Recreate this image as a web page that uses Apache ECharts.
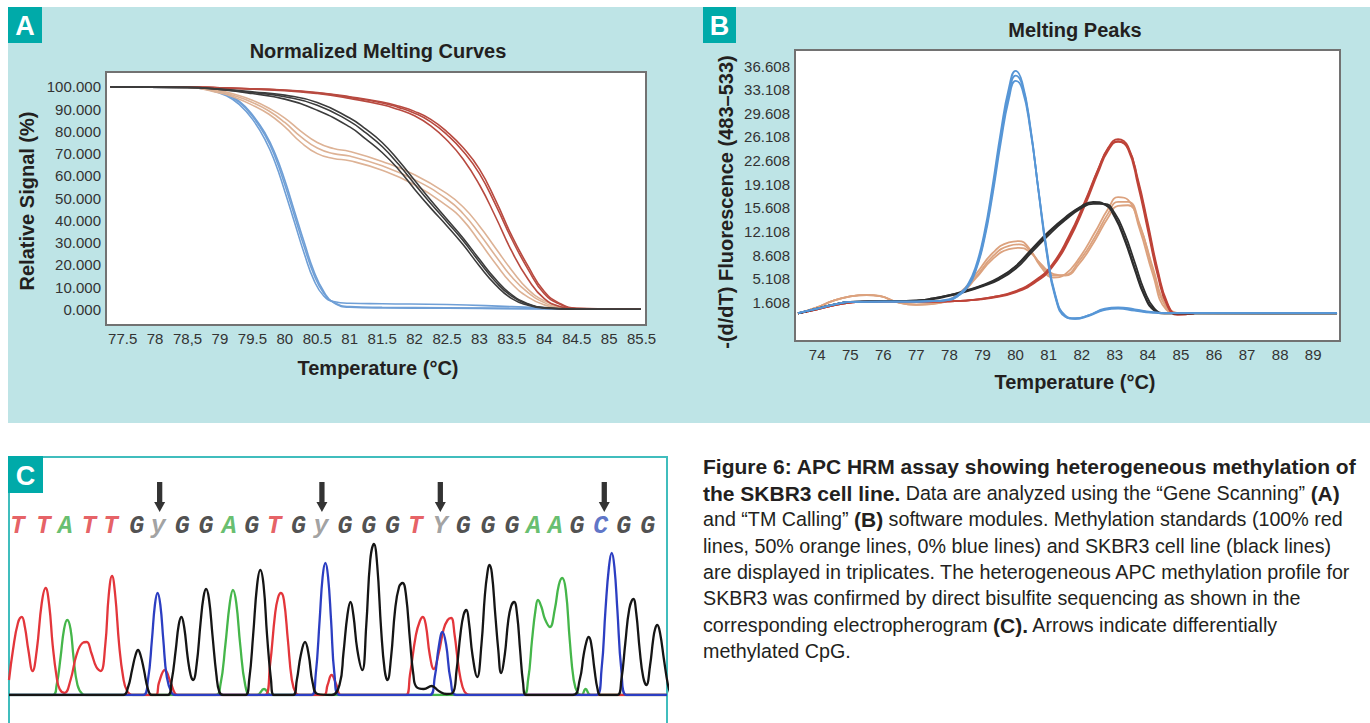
<!DOCTYPE html>
<html>
<head>
<meta charset="utf-8">
<script src="https://cdn.jsdelivr.net/npm/echarts/dist/echarts.min.js"></script>
<style>
  html, body { margin: 0; padding: 0; background: #ffffff; }
  #chart { width: 1370px; height: 723px; }
</style>
</head>
<body>
<div id="chart"></div>
<script>
// ---------------- Panel A : Normalized Melting Curves ----------------
const aTicks = [77.5, 78, 78.5, 79, 79.5, 80, 80.5, 81, 81.5, 82, 82.5, 83, 83.5, 84, 84.5, 85, 85.5];
const aTickLabels = ['77.5', '78', '78,5', '79', '79.5', '80', '80.5', '81', '81.5', '82', '82.5', '83', '83.5', '84', '84.5', '85', '85.5'];
const aYTicks = [0, 10, 20, 30, 40, 50, 60, 70, 80, 90, 100];

const aBlueT = [77.31, 78.5, 78.85, 79.1, 79.3, 79.5, 79.7, 79.85, 80.0, 80.15, 80.3, 80.45, 80.6, 80.75, 81.0, 81.5, 82.5, 83.5, 84.5, 85.49];
const aBlue1 = [100, 99.8, 98.5, 96, 92, 85.5, 76, 66, 53, 39, 25, 13, 6, 3.5, 2.7, 2.5, 2.2, 1.2, 0.2, 0];
const aBlue2 = [100, 99.8, 98.8, 96.8, 93.5, 87.5, 79, 70, 58, 44, 30, 17, 8, 3, 0.9, 0.6, 0.5, 0.3, 0.1, 0];
const aBlue3 = [100, 99.8, 98.7, 96.5, 93, 86.8, 78, 68.5, 56, 42, 28, 15.5, 7.2, 3.2, 1.2, 0.9, 0.7, 0.4, 0.1, 0];

const aRedT = [77.31, 78.5, 79.0, 80.0, 80.5, 81.0, 81.5, 81.75, 82.0, 82.25, 82.5, 82.75, 83.0, 83.25, 83.5, 83.75, 84.0, 84.25, 84.5, 85.49];
const aRed1 = [100, 100, 99.6, 98.6, 97.5, 95.6, 93.2, 91.4, 89, 85.4, 79.8, 72.6, 63, 49, 33, 19.4, 8, 2.5, 0.5, 0];
const aRed2 = [100, 100, 99.5, 98.3, 97, 94.8, 92, 89.8, 87, 82.5, 76, 67.5, 56, 41.5, 26, 13.5, 4.8, 1.2, 0.2, 0];
const aRed3 = [100, 100, 99.6, 98.5, 97.3, 95.3, 92.8, 90.8, 88.2, 84.3, 78.5, 71, 61, 47, 31.5, 18, 7, 2.2, 0.4, 0];

const aOrangeT = [77.31, 78.5, 79.0, 79.25, 79.5, 79.75, 80.0, 80.25, 80.5, 80.75, 81.0, 81.5, 82.0, 82.5, 82.75, 83.0, 83.25, 83.5, 83.75, 84.0, 84.25, 84.5, 85.49];
const aOrange1 = [100, 99.8, 98.2, 96.5, 94, 90.5, 86, 80, 75, 72.3, 71, 66.5, 60.5, 52, 46, 37.5, 27.5, 17.5, 9, 3.8, 1.2, 0.3, 0];
const aOrange2 = [100, 99.8, 97.8, 95.8, 93, 89.3, 84, 77.5, 72.5, 70, 68.9, 64.5, 58.3, 49.5, 43, 34, 24, 14.5, 7.5, 3, 0.8, 0.2, 0];
const aOrange3 = [100, 99.7, 97.3, 95, 91.8, 87.8, 82, 75, 70, 67.8, 66.8, 62.5, 56, 46.5, 40, 30.5, 20.5, 11.5, 5.5, 2, 0.5, 0.1, 0];

const aBlackT = [77.31, 78.5, 79.0, 79.5, 80.0, 80.5, 81.0, 81.25, 81.5, 81.75, 82.0, 82.25, 82.5, 82.75, 83.0, 83.25, 83.5, 83.75, 84.0, 84.5, 85.49];
const aBlack1 = [100, 99.8, 99, 97.8, 96.3, 93, 86, 81, 75, 67, 58, 49, 40.5, 32, 22.5, 13.5, 6.5, 2.5, 0.8, 0.1, 0];
const aBlack2 = [100, 99.7, 98.8, 97, 94.5, 89.5, 82, 76.5, 70.5, 63, 54, 45.5, 37.5, 29, 19.5, 11, 4.8, 1.8, 0.5, 0, 0];
const aBlack3 = [100, 99.8, 98.9, 97.5, 95.6, 91.8, 84.5, 79.3, 73.2, 65.3, 56.3, 47.6, 39.3, 30.8, 21.3, 12.4, 5.8, 2.2, 0.7, 0.05, 0];

// ---------------- Panel B : Melting Peaks ----------------
const bTicks = [74, 75, 76, 77, 78, 79, 80, 81, 82, 83, 84, 85, 86, 87, 88, 89];
const bYTicks = [1.608, 5.108, 8.608, 12.108, 15.608, 19.108, 22.608, 26.108, 29.608, 33.108, 36.608];

const bBlueT = [73.42, 74.0, 74.5, 75.0, 76.0, 77.0, 77.5, 78.0, 78.3, 78.55, 78.8, 79.05, 79.3, 79.55, 79.8, 80.0, 80.2, 80.45, 80.7, 80.95, 81.2, 81.5, 81.8, 82.2, 82.7, 83.1, 83.6, 84.1, 84.6, 89.72];
const bBlue1 = [0.05, 0.7, 1.3, 1.7, 1.75, 1.75, 1.8, 2.1, 2.9, 4.2, 7.0, 11.8, 18.8, 26.8, 33.4, 35.9, 34.2, 27.5, 17.8, 8.6, 2.4, -0.5, -0.8, -0.3, 0.6, 0.8, 0.5, 0.15, 0.03, 0.03];
const bBlue2 = [0.05, 0.7, 1.3, 1.7, 1.75, 1.75, 1.8, 2.0, 2.8, 4.0, 6.6, 11.2, 18.0, 26.0, 32.6, 35.2, 33.8, 27.3, 17.9, 8.9, 2.6, -0.4, -0.8, -0.4, 0.5, 0.7, 0.4, 0.1, 0.03, 0.03];
const bBlue3 = [0.05, 0.7, 1.3, 1.7, 1.75, 1.75, 1.8, 2.0, 2.7, 3.9, 6.4, 10.8, 17.4, 25.2, 31.8, 34.4, 33.2, 27.0, 18.0, 9.2, 2.8, -0.3, -0.7, -0.3, 0.7, 0.9, 0.6, 0.2, 0.03, 0.03];

const bRedT = [73.42, 74.0, 74.5, 75.0, 75.5, 76.5, 77.5, 78.5, 79.3, 80.0, 80.6, 81.1, 81.6, 82.1, 82.5, 82.8, 83.1, 83.4, 83.7, 84.0, 84.3, 84.6, 84.9, 85.4];
const bRed1 = [0, 0.6, 1.2, 1.6, 1.75, 1.75, 1.75, 1.9, 2.4, 3.2, 4.8, 7.0, 11.0, 16.4, 21.3, 24.5, 25.8, 24.7, 19.5, 12.8, 6.0, 1.2, -0.2, 0];
const bRed2 = [0, 0.6, 1.2, 1.6, 1.75, 1.75, 1.75, 1.9, 2.3, 3.1, 4.6, 6.8, 10.7, 16.0, 20.9, 24.1, 25.4, 24.5, 19.8, 13.3, 6.4, 1.4, -0.1, 0];
const bRed3 = [0, 0.6, 1.2, 1.6, 1.75, 1.75, 1.75, 1.9, 2.4, 3.3, 4.9, 7.2, 11.3, 16.6, 21.4, 24.4, 25.5, 24.3, 19.0, 12.3, 5.6, 1.0, -0.2, 0];

const bBlackT = [73.42, 74.0, 74.5, 75.0, 76.0, 77.0, 77.5, 78.0, 78.5, 79.0, 79.5, 80.0, 80.5, 81.0, 81.5, 82.0, 82.35, 82.7, 83.0, 83.3, 83.6, 83.9, 84.2, 84.5, 89.72];
const bBlack1 = [0, 0.7, 1.3, 1.7, 1.8, 1.9, 2.2, 2.7, 3.4, 4.2, 5.3, 7.0, 9.6, 12.1, 14.2, 15.9, 16.5, 16.1, 14.2, 10.8, 6.5, 2.5, 0.4, 0, 0];
const bBlack2 = [0, 0.7, 1.3, 1.7, 1.8, 1.9, 2.1, 2.6, 3.2, 4.0, 5.0, 6.6, 9.1, 11.6, 13.8, 15.6, 16.2, 16.2, 14.8, 11.8, 7.6, 3.3, 0.7, 0.05, 0];
const bBlack3 = [0, 0.7, 1.3, 1.7, 1.8, 1.9, 2.2, 2.7, 3.3, 4.1, 5.2, 6.9, 9.4, 11.9, 14.0, 15.8, 16.4, 16.1, 14.4, 11.1, 6.8, 2.7, 0.5, 0, 0];

const bOrangeT = [73.42, 74.0, 74.5, 75.0, 75.5, 75.9, 76.4, 77.0, 77.6, 78.3, 78.8, 79.3, 79.8, 80.1, 80.4, 80.75, 81.15, 81.5, 81.9, 82.4, 82.8, 83.1, 83.4, 83.75, 84.15, 84.55, 84.95];
const bOrange1 = [0, 0.9, 1.9, 2.5, 2.75, 2.6, 1.7, 1.3, 1.5, 3.0, 5.8, 8.9, 10.5, 10.7, 9.7, 7.0, 5.3, 5.8, 8.0, 12.0, 15.5, 17.2, 16.8, 12.5, 5.8, 0.6, 0];
const bOrange2 = [0, 0.9, 1.9, 2.5, 2.7, 2.55, 1.65, 1.25, 1.45, 2.9, 5.4, 8.4, 10.0, 10.2, 9.5, 7.3, 5.6, 5.7, 7.6, 11.3, 14.8, 16.5, 16.5, 13.2, 6.5, 0.9, 0];
const bOrange3 = [0, 0.9, 1.9, 2.5, 2.7, 2.55, 1.7, 1.3, 1.5, 2.8, 5.2, 8.0, 9.5, 9.7, 9.2, 7.4, 5.8, 5.6, 7.2, 10.8, 14.2, 15.9, 16.0, 13.0, 6.8, 1.1, 0];

// ---------------- Panel C : electropherogram ----------------
const seqLetters = 'TTATTGyGGAGTGyGGGTYGGGAAGCGG';
const seqPos = [8.5, 34.7, 56.6, 80.6, 102.5, 128.7, 150.5, 174.6, 198.6, 221.8, 244.5, 267.2, 291.7, 314.4, 338.5, 362.5, 386.5, 409.7, 434.6, 457.8, 482.7, 506.7, 528.6, 550.4, 572.3, 596.3, 619.5, 643.5];
const arrowPos = [151.8, 315.3, 434.6, 599.8];

const traceT = [[0,15],[4,45],[9,72],[12.9,78],[16,68],[19.5,45],[23.8,24],[28,45],[33,92],[36.9,107],[40.5,90],[44,50],[48,18],[51,6],[56,2],[62,15],[68,40],[74,52],[78.4,53],[83,42],[88,28],[92.4,24],[97,50],[100.5,100],[103.8,119],[107,100],[111,50],[115,18],[119,4],[125,0],[148,0],[151,12],[157,25],[163,12],[167,2],[170,0],[258,0],[263,30],[268,80],[271,97],[274,102],[277,95],[281,55],[285,15],[289,2],[293,0],[317,0],[321,10],[325,20],[330,10],[335,0],[400,0],[404,20],[410,60],[414,74],[417,78],[420,70],[424,40],[428,26],[433,42],[438,66],[442,75],[445.5,77],[449,60],[453,28],[457,8],[461,1],[465,0],[663,0]];
const traceA = [[0,0],[44,0],[48,10],[52,38],[55.5,66],[58.7,75],[62,66],[65,38],[69,10],[74,1],[78,0],[208,0],[213,10],[218,50],[222.5,92],[225.7,105],[229,92],[233,50],[238,10],[243,0],[250,0],[257,6],[264,0],[518,0],[523,15],[527,55],[530.5,85],[533,95],[536.5,88],[540,76],[545,68],[550,86],[554,110],[557.4,117],[561,105],[565,55],[569,15],[573,2],[577,0],[581,6],[586,0],[663,0]];
const traceC = [[0,0],[135,0],[140,15],[144,55],[147,90],[149.7,102],[152.5,90],[155.5,55],[159,18],[164,2],[168,0],[305,0],[309,20],[313,75],[316,118],[318.8,132],[321.5,118],[324.5,75],[328,20],[333,0],[424,0],[429,18],[433,48],[436.8,63],[440.5,50],[445,15],[451,0],[592,0],[597,25],[601,85],[604.5,128],[607.3,142],[610,128],[613,85],[617,25],[622,0],[663,0]];
const traceG = [[0,0],[115,0],[120,8],[124,25],[127.5,40],[130,45],[132.5,40],[136,25],[140,6],[144,0],[160,0],[164,15],[168,45],[171,70],[173.7,78],[176.5,68],[180,38],[183,20],[185.5,15],[189,30],[193,72],[196,98],[198.6,106],[201.5,96],[205,60],[209,20],[212,3],[216,0],[238,0],[242,15],[246,60],[250,110],[253.2,125],[256.5,110],[260,60],[264,15],[267,0],[286,0],[290,15],[294,40],[298.3,53],[302,40],[306,12],[311,1],[325,0],[333,10],[337,42],[341,80],[344.1,93],[347,80],[351,45],[356,25],[360,70],[364,135],[367.7,151],[371,130],[375,65],[378.5,25],[381.3,15],[385,38],[389,85],[393,108],[396.6,112],[400,100],[404,55],[407.5,20],[410.6,8],[418,6],[425.9,9],[433,4],[441,1],[447,2],[451,25],[455,62],[458,80],[460.8,85],[463.5,72],[467,40],[471.8,18],[476,50],[479.5,100],[482,122],[484,130],[486.5,122],[490,80],[493,45],[495.8,22],[499.5,40],[503,74],[506,89],[509,93],[512,80],[515,45],[518,12],[521,0],[568,0],[575,15],[579,40],[582,54],[584.1,58],[586.5,52],[590,25],[593,6],[596,0],[613,0],[617,15],[621,52],[625,86],[629.1,96],[632,82],[635.5,45],[639,18],[642.2,10],[646,30],[649,55],[651,66],[653.2,70],[656,62],[660,35],[664,10],[667,0]];

// ---------------- build ----------------
const FONT = '"Liberation Sans", Arial, sans-serif';
const toPairs = (xs, ys) => xs.map((x, i) => [x, ys[i]]);

function curve(xs, ys, color, width, axis) {
  return {
    type: 'line', xAxisIndex: axis, yAxisIndex: axis,
    data: toPairs(xs, ys), smooth: 0.5,
    showSymbol: false, symbol: 'none', silent: true,
    lineStyle: { color: color, width: width }
  };
}
function trace(points, color) {
  return {
    type: 'line', xAxisIndex: 2, yAxisIndex: 2, data: points,
    smooth: 0.45, showSymbol: false, symbol: 'none', silent: true,
    lineStyle: { color: color, width: 2.3 }
  };
}

const colA = { blue: '#6f9fd6', orange: '#ddb295', red: '#b84a40', black: '#3c3c3c' };
const colB = { blue: '#5796d6', orange: '#dca27e', red: '#be4338', black: '#2e2e2e' };
const letterColors = { T: '#e0383d', A: '#3fae49', G: '#222222', y: '#8a8a8a', Y: '#8a8a8a', C: '#3450b8' };

const tickLabelStyle = { fontFamily: FONT, fontSize: 15, color: '#333' };

const series = [
  curve(aBlueT, aBlue1, colA.blue, 1.6, 0),
  curve(aBlueT, aBlue2, colA.blue, 1.6, 0),
  curve(aBlueT, aBlue3, colA.blue, 1.6, 0),
  curve(aOrangeT, aOrange1, colA.orange, 1.6, 0),
  curve(aOrangeT, aOrange2, colA.orange, 1.6, 0),
  curve(aOrangeT, aOrange3, colA.orange, 1.6, 0),
  curve(aRedT, aRed1, colA.red, 1.6, 0),
  curve(aRedT, aRed2, colA.red, 1.6, 0),
  curve(aRedT, aRed3, colA.red, 1.6, 0),
  curve(aBlackT, aBlack1, colA.black, 1.6, 0),
  curve(aBlackT, aBlack2, colA.black, 1.6, 0),
  curve(aBlackT, aBlack3, colA.black, 1.6, 0),

  curve(bOrangeT, bOrange1, colB.orange, 1.8, 1),
  curve(bOrangeT, bOrange2, colB.orange, 1.8, 1),
  curve(bOrangeT, bOrange3, colB.orange, 1.8, 1),
  curve(bRedT, bRed1, colB.red, 1.8, 1),
  curve(bRedT, bRed2, colB.red, 1.8, 1),
  curve(bRedT, bRed3, colB.red, 1.8, 1),
  curve(bBlackT, bBlack1, colB.black, 1.8, 1),
  curve(bBlackT, bBlack2, colB.black, 1.8, 1),
  curve(bBlackT, bBlack3, colB.black, 1.8, 1),
  curve(bBlueT, bBlue1, colB.blue, 1.8, 1),
  curve(bBlueT, bBlue2, colB.blue, 1.8, 1),
  curve(bBlueT, bBlue3, colB.blue, 1.8, 1),

  trace(traceA, '#45b64a'),
  trace(traceT, '#e3363b'),
  trace(traceC, '#2c3ec2'),
  trace(traceG, '#151515'),
  {
    type: 'scatter', xAxisIndex: 2, yAxisIndex: 2, silent: true,
    symbolSize: 1, itemStyle: { color: 'rgba(0,0,0,0)' },
    data: seqPos.map((x, i) => ({ value: [x, 169], label: { color: letterColors[seqLetters[i]] } })),
    label: {
      show: true, position: 'inside', formatter: p => seqLetters[p.dataIndex],
      fontFamily: '"Liberation Mono", "DejaVu Sans Mono", monospace', fontStyle: 'italic', fontWeight: 'bold', fontSize: 25
    }
  },
  {
    type: 'scatter', xAxisIndex: 2, yAxisIndex: 2, silent: true,
    symbol: 'path://M2.6,0 L7.4,0 L7.4,20 L10,20 L5,30 L0,20 L2.6,20 Z',
    symbolSize: [11, 30], itemStyle: { color: '#000' },
    data: arrowPos.map(x => [x, 198])
  }
];

function findLabel(v, ticks, labels) {
  for (let i = 0; i < ticks.length; i++) if (Math.abs(ticks[i] - v) < 1e-6) return labels[i];
  return '';
}

function txt(x, y, text, font, opts) {
  return Object.assign({
    type: 'text', x: x, y: y, z: 50, silent: true,
    style: { text: text, font: font, fill: '#231f20', align: 'center', verticalAlign: 'middle' }
  }, opts || {});
}

const RB = 'bold 21px ' + FONT;
const RR = '19.7px ' + FONT;
const captionRich = {
  b: { font: RB, fill: '#231f20' },
  r: { font: RR, fill: '#231f20' }
};
const captionLines = [
  '{b|Figure 6: APC HRM assay showing heterogeneous methylation of}',
  '{b|the SKBR3 cell line.}{r| Data are analyzed using the \u201cGene Scanning\u201d }{b|(A)}',
  '{r|and \u201cTM Calling\u201d }{b|(B)}{r| software modules. Methylation standards (100% red}',
  '{r|lines, 50% orange lines, 0% blue lines) and SKBR3 cell line (black lines)}',
  '{r|are displayed in triplicates. The heterogeneous APC methylation profile for}',
  '{r|SKBR3 was confirmed by direct bisulfite sequencing as shown in the}',
  '{r|corresponding electropherogram }{b|(C).}{r| Arrows indicate differentially}',
  '{r|methylated CpG.}'
];
const captionY = [466, 493, 519, 546, 572, 598, 625, 651];

const graphics = [
  { type: 'rect', z: -10, silent: true, shape: { x: 8, y: 7, width: 1362, height: 416 }, style: { fill: '#bee4e6' } },
  { type: 'rect', z: -10, silent: true, shape: { x: 9, y: 457, width: 658, height: 300 }, style: { fill: '#ffffff', stroke: '#40bdbd', lineWidth: 2 } },
  { type: 'rect', z: 40, silent: true, shape: { x: 8, y: 7, width: 34, height: 36 }, style: { fill: '#00aaa9' } },
  { type: 'rect', z: 40, silent: true, shape: { x: 703, y: 7, width: 33, height: 36 }, style: { fill: '#00aaa9' } },
  { type: 'rect', z: 40, silent: true, shape: { x: 8, y: 456, width: 35, height: 37 }, style: { fill: '#00aaa9' } },
  txt(25, 26, 'A', 'bold 27px "Liberation Sans Narrow", ' + FONT, {}),
  txt(719.5, 26, 'B', 'bold 27px "Liberation Sans Narrow", ' + FONT, {}),
  txt(25.5, 475.5, 'C', 'bold 27px "Liberation Sans Narrow", ' + FONT, {}),
  txt(378, 51, 'Normalized Melting Curves', 'bold 20px ' + FONT),
  txt(378, 368, 'Temperature (\u00b0C)', 'bold 20px ' + FONT),
  txt(27, 201, 'Relative Signal (%)', 'bold 20px ' + FONT, { rotation: Math.PI / 2 }),
  txt(1075, 30, 'Melting Peaks', 'bold 20px ' + FONT),
  txt(1075, 382, 'Temperature (\u00b0C)', 'bold 20px ' + FONT),
  txt(726, 202, '-(d/dT) Fluorescence (483\u2013533)', 'bold 20px ' + FONT, { rotation: Math.PI / 2 })
];
graphics[5].style.fill = '#ffffff';
graphics[6].style.fill = '#ffffff';
graphics[7].style.fill = '#ffffff';
captionLines.forEach((t, i) => {
  graphics.push({
    type: 'text', x: 703, y: captionY[i], z: 50, silent: true,
    style: { text: t, rich: captionRich, font: RR, fill: '#231f20', align: 'left', verticalAlign: 'middle' }
  });
});

const hiddenAxisBits = { axisLine: { show: false }, axisTick: { show: false }, splitLine: { show: false } };

const option = {
  animation: false,
  backgroundColor: '#ffffff',
  grid: [
    { left: 106, top: 72, width: 540, height: 253, show: true, backgroundColor: '#ffffff', borderColor: '#727272', borderWidth: 2 },
    { left: 795, top: 50, width: 545, height: 291, show: true, backgroundColor: '#ffffff', borderColor: '#727272', borderWidth: 2 },
    { left: 9, top: 470, width: 658, height: 225, show: false }
  ],
  xAxis: [
    Object.assign({ gridIndex: 0, type: 'value', min: 77.243, max: 85.568,
      axisLabel: Object.assign({ customValues: aTicks, margin: 6, formatter: v => findLabel(v, aTicks, aTickLabels) }, tickLabelStyle) }, hiddenAxisBits),
    Object.assign({ gridIndex: 1, type: 'value', min: 73.33, max: 89.81,
      axisLabel: Object.assign({ customValues: bTicks, margin: 6, formatter: v => String(v) }, tickLabelStyle) }, hiddenAxisBits),
    { gridIndex: 2, type: 'value', min: 0, max: 663, show: false, splitLine: { show: false } }
  ],
  yAxis: [
    Object.assign({ gridIndex: 0, type: 'value', min: -7.05, max: 106.7,
      axisLabel: Object.assign({ customValues: aYTicks, margin: 5, formatter: v => v.toFixed(3) }, tickLabelStyle) }, hiddenAxisBits),
    Object.assign({ gridIndex: 1, type: 'value', min: -4.09, max: 38.98,
      axisLabel: Object.assign({ customValues: bYTicks, margin: 5, formatter: v => v.toFixed(3) }, tickLabelStyle) }, hiddenAxisBits),
    { gridIndex: 2, type: 'value', min: 0, max: 225, show: false, splitLine: { show: false } }
  ],
  graphic: graphics,
  series: series
};

const chart = echarts.init(document.getElementById('chart'), null, { renderer: 'svg', width: 1370, height: 723 });
chart.setOption(option);
</script>
</body>
</html>
